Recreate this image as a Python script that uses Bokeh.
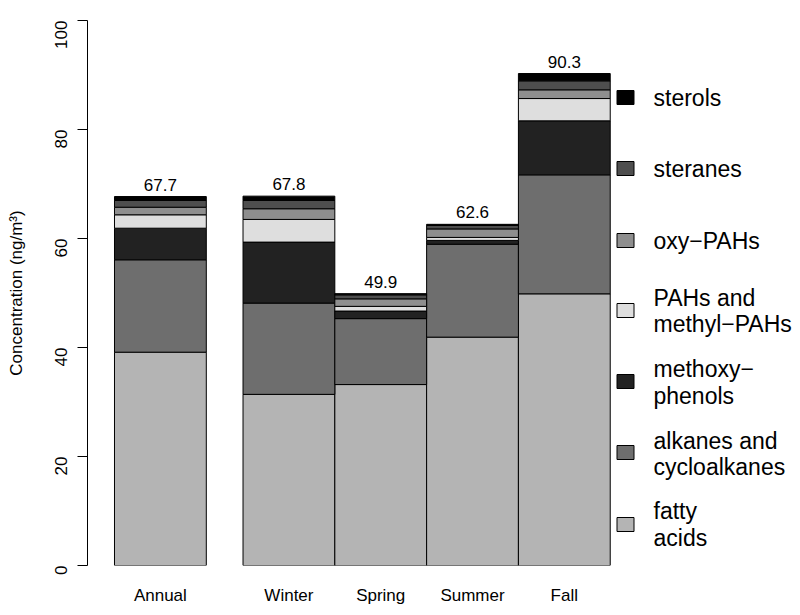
import math
from bokeh.plotting import figure
from bokeh.models import ColumnDataSource, Range1d, FixedTicker
from bokeh.core.properties import value
from bokeh.embed import file_html
from bokeh.resources import INLINE

# ---- data (ng/m3) ----
seasons = ["Annual", "Winter", "Spring", "Summer", "Fall"]
fatty_acids = [39.14, 31.40, 33.20, 41.90, 49.85]
alkanes = [16.95, 16.75, 12.10, 17.05, 21.83]
methoxyphenols = [5.80, 11.19, 1.39, 0.70, 9.91]
pahs = [2.46, 4.16, 0.86, 0.55, 4.09]
oxy_pahs = [1.39, 1.96, 1.38, 1.56, 1.60]
steranes = [1.23, 1.52, 0.73, 0.64, 1.65]
sterols = [0.73, 0.79, 0.22, 0.20, 1.34]
y_ticks = [0, 20, 40, 60, 80, 100]

keys = ["fatty", "alkanes", "methoxy", "pahs", "oxy", "steranes", "sterols"]
series = [fatty_acids, alkanes, methoxyphenols, pahs, oxy_pahs, steranes, sterols]
colors = ["#b4b4b4", "#6e6e6e", "#222222", "#dedede", "#8e8e8e", "#4e4e4e", "#000000"]
legend_lines = [["fatty", "acids"], ["alkanes and", "cycloalkanes"], ["methoxy\u2212", "phenols"],
                ["PAHs and", "methyl\u2212PAHs"], ["oxy\u2212PAHs"], ["steranes"], ["sterols"]]

FONT = "Liberation Sans"

# bar positions: width 1, gap of 0.4 after the first bar
xs = [i + 0.5 + (0.4 if i > 0 else 0) for i in range(len(seasons))]
totals = [sum(s[i] for s in series) for i in range(len(seasons))]

data = {"x": xs}
for k, s in zip(keys, series):
    data[k] = s
src = ColumnDataSource(data)

# layout helpers (pixel -> data for legend placement)
X0_PX, UNIT_PX = 114.0, 91.8
Y0_PX, YUNIT_PX = 565.0, 5.45
AXIS_PX = 87
def px_x(px):
    return (px - X0_PX) / UNIT_PX
def px_y(py):
    return (Y0_PX - py) / YUNIT_PX

p = figure(width=796, height=615,
           x_range=Range1d(px_x(AXIS_PX), px_x(796)), y_range=Range1d(0, 100),
           output_backend="svg", toolbar_location=None,
           min_border_left=AXIS_PX, min_border_right=0, min_border_top=20, min_border_bottom=50)
p.outline_line_color = None
p.grid.visible = False
p.background_fill_color = "white"
p.border_fill_color = "white"

p.vbar_stack(keys, x="x", width=1, color=colors, line_color="black", line_width=1, source=src)

p.text(x=xs, y=totals, text=[f"{t:.1f}" for t in totals], text_align="center",
       text_baseline="middle", y_offset=-12, text_font=value(FONT),
       text_font_size="17px", text_color="black")

# legend (drawn manually, top to bottom)
sq_centers = [524, 452, 381, 310, 240, 168, 97]
line_centers = [[510, 537], [440, 466], [368, 395], [297, 323], [240], [168], [97]]
p.rect(x=[px_x(625)] * 7, y=[px_y(c) for c in sq_centers], width=17, height=14,
       width_units="screen", height_units="screen", fill_color=colors,
       line_color="black", line_width=1)
tx, ty, tt = [], [], []
for lines, cents in zip(legend_lines, line_centers):
    for ln, c in zip(lines, cents):
        tx.append(px_x(653)); ty.append(px_y(c)); tt.append(ln)
p.text(x=tx, y=ty, text=tt, text_align="left", text_baseline="middle",
       text_font=value(FONT), text_font_size="23px", text_color="black")

# y axis
ya = p.yaxis[0]
ya.ticker = FixedTicker(ticks=y_ticks)
ya.minor_tick_line_color = None
ya.major_tick_out = 10
ya.major_tick_in = 0
ya.major_label_orientation = math.pi / 2
ya.major_label_standoff = 17
ya.major_label_text_font = FONT
ya.major_label_text_font_size = "17px"
ya.major_label_text_color = "black"
ya.axis_line_color = "black"
ya.major_tick_line_color = "black"
ya.axis_label = "Concentration (ng/m\u00b3)"
ya.axis_label_text_font = FONT
ya.axis_label_text_font_size = "17px"
ya.axis_label_text_font_style = "normal"
ya.axis_label_text_color = "black"
ya.axis_label_standoff = 20

# x axis: labels only
xa = p.xaxis[0]
xa.ticker = FixedTicker(ticks=xs)
xa.major_label_overrides = {x: s for x, s in zip(xs, seasons)}
xa.axis_line_color = None
xa.major_tick_line_color = None
xa.minor_tick_line_color = None
xa.major_tick_out = 0
xa.major_tick_in = 0
xa.major_label_standoff = 20
xa.major_label_text_font = FONT
xa.major_label_text_font_size = "17px"
xa.major_label_text_color = "black"

open("out.html", "w").write(file_html(p, INLINE))
